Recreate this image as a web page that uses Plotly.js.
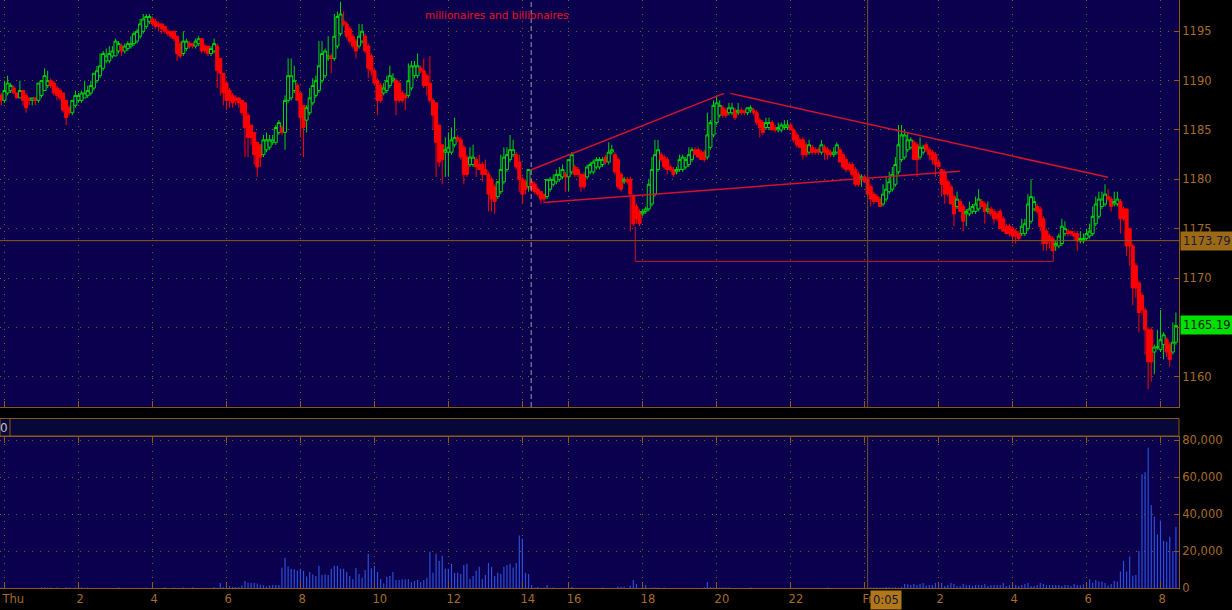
<!DOCTYPE html>
<html>
<head>
<meta charset="utf-8">
<script src="https://cdn.plot.ly/plotly-3.0.1.min.js"></script>
<style>
html,body{margin:0;padding:0;background:#000;}
#chart{width:1232px;height:610px;}
</style>
</head>
<body>
<div id="chart"></div>
<script>
// 5-minute candles, first one is Wed 23:55 (slot -1), last one Fri 08:25
const firstSlot = -1;

const openP = [1188.5,
1188.0,1188.75,1189.0,1189.25,1188.75,1188.25,1189.0,1188.5,1188.25,1188.0,1188.25,1188.0,
1188.5,1189.0,1189.5,1190.0,1189.75,1189.25,1189.0,1188.75,1188.0,1187.25,1186.75,1187.5,
1188.0,1188.0,1188.25,1188.5,1188.75,1189.25,1190.0,1190.5,1191.25,1192.0,1192.0,1192.5,
1192.5,1193.0,1193.5,1193.0,1193.25,1193.5,1193.75,1194.0,1194.5,1195.0,1195.5,1196.0,
1196.25,1196.0,1195.75,1195.75,1195.5,1195.0,1195.0,1195.0,1194.5,1193.75,1192.75,1193.25,
1193.75,1193.75,1193.5,1193.75,1194.25,1193.5,1193.5,1192.75,1193.0,1193.5,1192.25,1190.75,
1189.75,1189.0,1188.5,1188.25,1188.25,1188.0,1187.75,1186.5,1185.5,1184.75,1183.75,1183.5,
1182.5,1183.0,1183.25,1183.75,1183.75,1184.75,1185.25,1184.75,1188.0,1188.25,1189.0,1189.5,
1188.75,1187.5,1186.0,1186.75,1187.75,1188.5,1189.0,1190.0,1190.5,1192.25,1192.5,1192.25,
1193.5,1194.75,1196.0,1195.75,1195.25,1194.5,1194.0,1193.5,1194.0,1194.5,1193.5,1192.5,
1191.0,1190.0,1189.5,1188.75,1189.0,1189.5,1190.0,1190.0,1189.75,1188.75,1188.5,1188.5,
1189.25,1190.5,1190.5,1191.25,1191.0,1190.5,1189.75,1188.0,1187.75,1185.5,1183.5,1182.75,
1182.75,1182.75,1183.5,1184.25,1184.0,1183.25,1182.25,1181.5,1181.5,1182.0,1181.5,1181.5,
1181.0,1180.5,1180.0,1179.25,1178.25,1178.75,1179.75,1181.0,1182.0,1182.5,1182.5,1181.75,
1180.0,1179.75,1179.25,1179.75,1179.5,1179.0,1178.75,1178.5,1178.25,1179.0,1179.5,1179.75,
1180.0,1180.25,1180.5,1180.25,1180.75,1181.25,1181.0,1180.5,1180.5,1180.25,1180.75,1180.75,
1181.25,1181.25,1181.5,1182.25,1181.75,1182.75,1182.5,1182.0,1180.5,1179.75,1180.0,1180.0,
1178.25,1177.25,1176.75,1176.5,1176.75,1177.0,1177.5,1178.5,1181.0,1182.5,1182.25,1182.0,
1181.25,1181.0,1180.75,1181.0,1181.0,1181.25,1181.5,1182.0,1183.0,1183.0,1182.75,1182.75,
1182.25,1183.25,1184.5,1185.75,1186.5,1187.25,1187.0,1186.75,1186.75,1187.0,1186.75,1187.0,
1187.0,1186.75,1187.0,1187.0,1186.75,1186.0,1185.75,1185.25,1185.25,1185.75,1185.25,1185.0,
1185.0,1185.25,1185.25,1185.5,1185.0,1184.5,1184.0,1184.0,1183.5,1182.75,1183.25,1183.0,
1183.0,1182.75,1183.25,1183.0,1182.75,1182.5,1182.75,1183.0,1182.5,1182.0,1181.5,1181.5,
1181.0,1180.5,1180.0,1180.25,1180.0,1179.25,1178.5,1178.25,1178.0,1177.5,1178.0,1178.75,
1179.0,1179.5,1180.75,1182.0,1182.25,1183.0,1183.25,1183.75,1183.5,1182.25,1182.75,1183.5,
1183.0,1182.75,1182.5,1181.75,1181.0,1180.75,1179.75,1179.25,1178.25,1177.25,1177.75,1177.25,
1176.5,1176.5,1176.75,1176.75,1177.0,1177.75,1177.5,1176.75,1177.0,1176.75,1176.5,1176.75,
1176.0,1175.25,1175.25,1175.0,1174.75,1174.5,1174.5,1174.5,1175.0,1175.75,1177.0,1177.25,
1177.0,1176.0,1174.75,1174.25,1174.0,1173.25,1173.25,1173.5,1174.5,1174.75,1174.75,1174.5,
1174.5,1173.75,1173.75,1174.0,1174.25,1174.5,1175.5,1176.25,1177.25,1177.5,1178.25,1178.0,
1177.5,1177.5,1177.75,1177.0,1177.0,1175.0,1173.25,1171.25,1169.5,1168.25,1166.75,1164.75,
1164.75,1162.5,1163.0,1162.75,1163.25,1163.75,1163.25,1162.5,1163.5];

const highP = [1188.75,
1190.0,1190.5,1189.75,1189.5,1188.75,1190.0,1189.0,1188.75,1188.25,1188.25,1188.25,1189.75,
1190.0,1191.25,1191.0,1190.25,1190.0,1189.5,1189.25,1188.75,1188.0,1187.5,1188.0,1189.0,
1188.75,1189.0,1190.0,1189.5,1190.0,1190.75,1191.5,1192.75,1193.0,1193.25,1193.5,1193.5,
1194.25,1194.0,1193.75,1193.75,1194.0,1194.5,1195.0,1195.25,1196.25,1196.75,1196.75,1196.75,
1196.5,1196.25,1196.0,1195.75,1195.5,1195.25,1195.0,1195.0,1194.5,1194.0,1195.0,1194.25,
1194.0,1193.75,1194.25,1194.5,1194.25,1193.75,1193.5,1193.5,1194.25,1193.75,1192.25,1190.75,
1190.0,1189.25,1188.75,1188.5,1188.25,1188.0,1187.75,1186.75,1185.5,1184.75,1183.75,1183.5,
1184.5,1184.75,1184.5,1184.5,1185.5,1186.0,1185.5,1188.5,1192.25,1192.25,1191.5,1189.75,
1188.75,1187.5,1187.5,1189.25,1190.25,1190.5,1194.0,1194.0,1193.25,1194.5,1192.75,1196.75,
1197.0,1198.0,1197.0,1196.0,1195.5,1194.75,1194.25,1195.75,1195.75,1194.75,1193.75,1192.75,
1191.25,1190.25,1189.75,1189.75,1190.5,1191.5,1190.75,1190.25,1190.0,1189.0,1188.75,1191.75,
1192.0,1192.0,1192.75,1191.5,1192.25,1190.75,1192.5,1188.25,1187.75,1185.5,1183.5,1184.25,
1184.75,1185.25,1186.25,1184.5,1184.25,1183.5,1182.5,1183.25,1183.5,1182.25,1182.5,1181.75,
1182.0,1180.75,1180.25,1179.5,1179.75,1182.5,1183.25,1183.25,1184.5,1184.0,1182.75,1182.5,
1180.25,1180.0,1181.0,1180.0,1179.75,1179.25,1178.75,1178.5,1180.0,1180.25,1180.5,1181.0,
1181.25,1181.5,1180.75,1182.0,1182.75,1181.5,1181.25,1180.5,1180.75,1181.5,1181.75,1182.0,
1182.25,1182.25,1182.25,1182.5,1183.75,1183.5,1182.75,1182.25,1180.75,1180.25,1180.25,1180.25,
1178.5,1177.5,1177.0,1177.0,1177.25,1180.0,1182.25,1184.0,1184.0,1182.75,1182.5,1182.25,
1181.5,1181.25,1181.25,1182.5,1182.5,1182.25,1183.25,1183.25,1183.25,1183.25,1183.0,1183.0,
1186.75,1186.0,1188.0,1188.5,1188.0,1187.5,1187.25,1187.75,1187.75,1187.25,1187.75,1187.25,
1187.0,1187.25,1187.5,1187.25,1187.0,1186.25,1186.0,1186.25,1186.25,1186.0,1185.5,1185.75,
1185.75,1186.0,1186.0,1185.75,1185.25,1184.75,1184.25,1184.25,1183.75,1184.0,1183.5,1183.25,
1183.25,1184.0,1183.5,1183.25,1183.0,1183.25,1183.75,1183.25,1182.75,1182.25,1181.75,1181.75,
1181.25,1180.75,1180.5,1180.5,1180.0,1179.5,1178.75,1178.5,1178.25,1179.5,1180.25,1180.75,
1181.25,1182.25,1185.5,1185.5,1185.0,1184.75,1184.25,1184.0,1183.75,1184.25,1183.5,1183.75,
1183.25,1183.0,1182.75,1182.0,1181.0,1181.0,1180.0,1179.5,1178.5,1178.75,1178.0,1177.5,
1177.0,1177.75,1177.5,1178.25,1179.0,1178.0,1177.75,1177.75,1177.25,1177.0,1176.75,1177.0,
1176.25,1175.5,1175.5,1175.25,1175.0,1174.75,1176.0,1176.0,1178.5,1180.0,1178.25,1177.5,
1177.25,1176.25,1175.0,1174.5,1174.25,1173.75,1174.5,1176.0,1175.75,1175.0,1174.75,1174.75,
1174.75,1174.75,1174.5,1175.0,1175.5,1177.25,1178.25,1178.75,1178.75,1179.5,1179.0,1178.25,
1178.75,1178.75,1178.0,1177.25,1177.0,1175.0,1173.5,1171.5,1169.75,1168.5,1167.0,1165.0,
1165.0,1163.25,1164.75,1166.75,1164.5,1164.0,1163.5,1165.5,1166.5];

const lowP = [1187.5,
1187.75,1188.5,1188.75,1188.75,1188.25,1188.25,1187.5,1186.75,1187.5,1187.5,1187.5,1187.75,
1188.25,1189.0,1189.25,1189.25,1188.5,1188.0,1188.0,1186.75,1185.5,1186.5,1186.5,1187.25,
1187.75,1187.75,1188.25,1188.25,1188.5,1189.0,1189.75,1190.25,1191.0,1191.75,1191.75,1192.25,
1192.5,1192.75,1192.5,1192.75,1193.0,1193.25,1193.5,1193.75,1194.25,1194.75,1195.25,1195.75,
1195.5,1195.25,1195.0,1194.75,1194.75,1194.5,1194.25,1194.0,1192.0,1192.25,1192.5,1193.0,
1193.25,1193.25,1193.25,1193.5,1192.75,1192.75,1192.5,1192.5,1192.75,1189.25,1188.5,1187.5,
1187.0,1187.25,1187.25,1187.5,1187.25,1186.5,1182.25,1182.25,1183.5,1181.5,1180.25,1181.25,
1182.25,1182.75,1183.0,1183.5,1183.5,1184.5,1184.5,1183.0,1187.75,1188.0,1188.75,1188.0,
1184.25,1182.25,1184.75,1186.5,1187.5,1188.25,1188.75,1189.75,1190.25,1192.0,1190.75,1192.0,
1193.25,1194.5,1195.5,1194.25,1193.75,1193.25,1192.25,1193.25,1193.75,1192.75,1190.25,1190.5,
1189.5,1186.5,1187.75,1188.5,1188.75,1189.25,1189.75,1186.5,1187.75,1187.75,1187.0,1188.25,
1189.0,1190.25,1190.25,1190.75,1189.25,1188.5,1187.75,1185.0,1180.25,1181.25,1179.5,1180.25,
1180.25,1182.5,1183.25,1183.75,1182.0,1179.5,1180.25,1181.25,1181.25,1180.25,1181.0,1179.75,
1180.5,1176.75,1176.75,1176.5,1178.0,1178.5,1179.5,1180.75,1181.75,1182.25,1181.0,1178.75,
1177.5,1178.5,1178.75,1178.75,1178.5,1178.25,1177.5,1177.75,1178.0,1178.75,1179.25,1179.5,
1179.75,1180.0,1178.75,1178.75,1180.5,1180.25,1180.25,1178.75,1179.0,1180.0,1180.5,1180.5,
1181.0,1181.0,1181.25,1181.5,1181.5,1182.5,1180.5,1179.0,1178.75,1179.5,1179.5,1174.75,
1175.25,1175.5,1175.25,1176.25,1176.5,1176.75,1177.25,1178.25,1180.75,1181.75,1181.0,1180.5,
1180.75,1180.25,1180.5,1180.75,1180.75,1181.0,1181.25,1181.75,1182.5,1182.25,1182.0,1181.75,
1182.0,1183.0,1184.25,1185.5,1186.25,1186.25,1186.25,1186.5,1186.5,1186.0,1186.5,1186.5,
1186.5,1186.5,1186.75,1186.5,1185.5,1184.25,1184.5,1185.0,1185.0,1185.0,1184.75,1184.75,
1184.75,1185.0,1185.0,1185.0,1183.75,1183.25,1183.25,1182.0,1182.25,1182.5,1182.5,1182.5,
1182.5,1182.5,1182.0,1182.0,1182.25,1182.25,1182.5,1181.75,1181.0,1180.75,1180.75,1180.25,
1179.25,1179.25,1179.25,1179.75,1178.25,1177.25,1177.5,1177.75,1177.25,1177.25,1177.75,1178.5,
1178.75,1179.25,1180.5,1181.75,1182.0,1182.75,1183.0,1182.0,1180.25,1182.0,1182.5,1182.75,
1182.0,1181.5,1180.25,1181.25,1178.25,1177.5,1178.25,1177.5,1175.25,1177.0,1176.75,1174.75,
1175.25,1176.25,1176.5,1176.5,1176.75,1177.25,1175.5,1176.5,1176.25,1175.5,1175.75,1175.0,
1174.75,1174.5,1174.25,1173.5,1173.5,1173.75,1174.25,1174.25,1174.75,1175.5,1176.75,1176.5,
1174.75,1172.75,1172.75,1173.0,1172.75,1172.75,1173.0,1173.25,1174.25,1174.25,1174.25,1173.75,
1172.75,1173.5,1173.5,1173.75,1174.0,1174.25,1175.25,1176.0,1177.0,1177.25,1177.75,1176.75,
1177.25,1177.25,1174.5,1175.75,1172.25,1171.25,1167.25,1168.0,1164.5,1166.25,1162.25,1158.75,
1159.5,1160.25,1162.75,1162.5,1161.75,1162.0,1161.0,1162.25,1163.25];

const closeP = [1188.0,
1189.0,1189.75,1189.5,1188.75,1188.25,1189.0,1188.0,1187.25,1188.0,1188.25,1188.0,1189.75,
1190.0,1190.5,1190.0,1189.5,1188.75,1188.5,1188.25,1187.0,1186.25,1186.75,1188.0,1188.5,
1188.5,1188.75,1188.75,1189.0,1189.5,1190.75,1191.0,1191.5,1192.75,1192.5,1192.75,1193.0,
1194.0,1193.75,1193.0,1193.5,1193.75,1193.75,1194.75,1195.0,1195.75,1196.25,1196.5,1196.5,
1195.75,1195.5,1195.5,1195.25,1195.0,1194.75,1194.5,1194.25,1192.75,1192.5,1194.0,1194.0,
1193.5,1193.5,1194.0,1194.25,1193.0,1193.0,1192.75,1193.25,1193.75,1191.0,1190.75,1188.75,
1188.0,1188.0,1187.75,1188.0,1187.75,1186.75,1185.25,1184.25,1184.25,1182.5,1181.25,1182.25,
1184.0,1184.0,1184.0,1184.0,1185.25,1185.75,1184.75,1188.0,1190.5,1190.5,1190.0,1188.0,
1186.25,1185.25,1187.25,1188.25,1189.5,1190.0,1191.5,1192.75,1193.0,1192.5,1192.25,1194.5,
1196.5,1196.75,1195.75,1194.5,1194.0,1193.5,1193.0,1194.5,1195.0,1193.0,1191.25,1191.0,
1189.75,1188.0,1188.0,1189.25,1190.0,1190.5,1190.25,1188.0,1188.0,1188.0,1188.25,1190.0,
1191.5,1191.5,1191.5,1191.0,1189.5,1189.5,1188.0,1186.5,1183.75,1181.75,1182.0,1183.0,
1183.25,1184.0,1184.25,1184.0,1182.25,1180.5,1180.5,1182.25,1182.25,1181.25,1181.0,1180.5,
1180.5,1178.5,1178.0,1177.75,1179.75,1181.0,1182.25,1182.5,1183.0,1183.0,1181.25,1180.0,
1178.5,1179.0,1181.0,1179.0,1178.75,1178.5,1178.0,1178.0,1180.0,1180.0,1180.0,1180.5,
1180.5,1181.0,1180.25,1182.0,1182.5,1180.5,1180.5,1179.25,1179.25,1181.25,1181.5,1181.75,
1182.0,1182.0,1182.0,1181.75,1182.75,1183.0,1180.75,1179.25,1179.0,1180.0,1179.75,1178.5,
1175.5,1176.0,1175.5,1176.75,1177.0,1179.5,1181.0,1182.5,1183.0,1182.0,1181.25,1181.0,
1181.0,1180.5,1181.0,1182.0,1182.25,1182.0,1182.5,1183.0,1182.5,1182.25,1182.0,1182.0,
1184.5,1185.75,1187.5,1187.75,1187.5,1186.5,1186.5,1187.25,1187.25,1186.25,1187.0,1186.75,
1186.75,1187.25,1187.25,1186.75,1185.75,1185.25,1184.75,1185.75,1185.75,1185.0,1185.0,1185.25,
1185.5,1185.5,1185.5,1185.0,1184.0,1183.5,1183.25,1182.5,1182.5,1183.5,1182.75,1182.75,
1182.75,1183.5,1182.75,1182.5,1182.5,1182.75,1183.5,1181.75,1181.25,1181.0,1181.0,1180.5,
1179.5,1179.5,1180.25,1179.75,1178.5,1178.0,1177.75,1177.75,1177.25,1178.5,1179.0,1179.75,
1180.5,1181.5,1183.5,1184.5,1184.5,1184.0,1184.0,1182.0,1182.0,1183.25,1183.25,1183.0,
1182.5,1182.0,1181.5,1181.25,1179.5,1178.5,1178.5,1177.5,1176.5,1178.0,1176.75,1175.75,
1176.75,1177.0,1177.25,1177.5,1178.0,1177.25,1176.75,1177.0,1176.5,1176.0,1176.0,1175.0,
1174.75,1174.5,1174.5,1174.25,1174.25,1174.0,1175.25,1175.5,1177.5,1178.25,1177.75,1176.75,
1175.25,1173.5,1173.5,1173.75,1172.75,1173.5,1174.25,1175.25,1175.0,1174.5,1174.5,1174.25,
1173.75,1174.0,1174.0,1174.5,1174.75,1176.25,1177.5,1178.0,1178.0,1178.5,1178.0,1177.25,
1177.75,1178.0,1176.0,1176.0,1173.25,1173.25,1169.0,1169.0,1166.5,1166.75,1164.75,1161.5,
1161.5,1163.0,1163.0,1163.75,1164.25,1162.5,1161.75,1163.5,1165.19];

const volume = [300,
200,0,0,0,0,0,0,0,0,0,0,0,
300,400,300,300,0,300,0,0,400,300,0,300,
400,300,0,300,0,0,0,0,0,0,0,0,
0,300,0,0,0,0,0,0,0,0,300,0,
0,0,0,0,400,0,0,300,0,0,300,0,
0,300,0,0,0,0,0,0,500,0,2700,400,
300,1100,600,600,600,1300,3800,2900,2900,2900,2400,1800,
1500,700,1300,1600,1600,1600,11000,16400,11600,10400,10200,9500,
10400,9300,6200,8700,7300,6500,12000,7100,7300,7100,10400,12000,
12000,10400,10400,8700,6500,4700,10900,7600,5500,9800,18500,10700,
12000,8700,4900,2500,6000,6500,8700,4400,4400,4700,4700,4900,
3300,3800,4400,3300,4400,5500,19600,8200,18500,14700,17500,10400,
10400,13100,8200,8200,7600,12500,13100,4900,6500,9300,11500,4900,
7100,13600,11500,6500,8200,7600,11500,12500,13100,11100,13600,28400,
26700,8200,7600,1600,300,500,0,300,1600,0,300,0,
0,0,0,0,500,0,0,0,0,0,0,0,
0,0,300,0,0,0,0,800,700,700,0,1200,
4400,2200,0,1000,1600,0,300,300,300,0,300,0,
0,0,0,0,0,0,0,0,0,0,0,300,
3300,500,300,300,300,300,300,300,0,0,0,0,
0,0,300,0,0,0,0,0,0,0,0,0,
0,0,0,0,0,0,0,0,0,0,0,0,
0,0,0,300,0,0,0,0,0,0,0,0,
0,0,0,0,0,400,300,400,300,300,500,400,
300,400,300,600,2200,2000,1600,2200,1600,2200,2700,1300,
1600,1600,2700,2200,2700,1100,1600,2700,2200,1100,1100,2200,
1600,1600,1100,1600,1600,1600,2200,1100,1600,1600,1600,1600,
2700,1100,1600,2200,1600,1100,1600,2200,2700,1100,1100,1600,
2700,2200,1600,1600,1600,1600,1600,1100,1600,1600,1100,2200,
1600,1500,2000,2500,4700,3000,4400,3500,3500,2700,1300,2200,
3800,3500,8900,14700,8900,17000,6700,7000,20000,61600,62700,76000,
45000,38700,29000,36500,25600,25000,27800,20000,33000];

// time axis: minutes after Thursday 00:00; session closed 14:15-15:00
const tickMinutes = [0,120,240,360,480,600,720,840,960,1080,1200,1320,1440,1560,1680,1800,1920];
const tickLabels = ['Thu','2','4','6','8','10','12','14','16','18','20','22','Fri','2','4','6','8'];
const priceTicks = [1160,1165,1170,1175,1180,1185,1190,1195];
const volumeTicks = [0,20000,40000,60000,80000];
function slotOf(min){ return min >= 900 ? min/5 - 9 : min/5; }

const crosshairMinutes = 1445;      // Fri 0:05
const crosshairLabel = '0:05';
const crosshairPrice = 1173.79;
const sessionBreakSlot = 170.85;     // dashed session separator
const noteText = 'millionaires and billionaires';
const noteAt = [159.7, 1196.65];
// drawn studies: [slot, price] points
const riseUpper = [[170.7,1180.94],[233.4,1188.71]];
const fallLine  = [[235.4,1188.71],[358.0,1180.2]];
const riseLower = [[174.8,1177.65],[309.9,1180.82]];
const rangeBox  = [[204.6,1175.2],[204.6,1171.69],[340.2,1171.69],[340.2,1172.77]];

const slots = closeP.map((_, k) => firstSlot + k);
const lastClose = closeP[closeP.length - 1];

const C = {
  bg:'#0b004e', paper:'#000000', grid:'#8a5a14', axis:'#8a5a14', text:'#a56b2a',
  up:'#00d800', down:'#ff0000', vol:'#2c50d8', trend:'#d0142c'
};
const FONT = 'DejaVu Sans, sans-serif';

const traces = [
  {
    type:'candlestick', x:slots, open:openP, high:highP, low:lowP, close:closeP,
    xaxis:'x', yaxis:'y', whiskerwidth:0, hoverinfo:'skip', showlegend:false,
    increasing:{line:{color:C.up,width:1}, fillcolor:C.bg},
    decreasing:{line:{color:C.down,width:1}, fillcolor:C.down}
  },
  {
    type:'bar', x:slots, y:volume, xaxis:'x2', yaxis:'y2', width:0.38,
    marker:{color:C.vol, line:{width:0}}, hoverinfo:'skip', showlegend:false
  }
];

const tickSlots = tickMinutes.map(slotOf);
const xr = [-1.46, 381.0];
const pyDom = [(588-407)/588, 1];
const vyDom = [0, (588-437)/588];

function seg(p, q, xref, yref, line){ return {type:'line', xref:xref, yref:yref, x0:p[0], y0:p[1], x1:q[0], y1:q[1], line:line}; }

const shapes = [
  {type:'rect', xref:'paper', yref:'paper', x0:0, x1:1, y0:(588-436)/588, y1:(588-418.5)/588,
   fillcolor:'#07073a', line:{color:C.axis, width:1}, layer:'below'},
  {type:'line', xref:'paper', yref:'paper', x0:10/1179, x1:10/1179, y0:(588-436)/588, y1:(588-418.5)/588,
   line:{color:C.axis, width:1}},
  {type:'line', xref:'x', yref:'y domain', x0:sessionBreakSlot, x1:sessionBreakSlot, y0:0, y1:1,
   line:{color:'#9a9ab8', width:1, dash:'5px,3px'}},
  {type:'line', xref:'x', yref:'y domain', x0:slotOf(crosshairMinutes), x1:slotOf(crosshairMinutes), y0:0, y1:1,
   line:{color:'#6f5028', width:1}},
  {type:'line', xref:'x2', yref:'y2 domain', x0:slotOf(crosshairMinutes), x1:slotOf(crosshairMinutes), y0:0, y1:1,
   line:{color:'#6f5028', width:1}},
  {type:'line', xref:'x domain', yref:'y', x0:0, x1:1, y0:crosshairPrice, y1:crosshairPrice,
   line:{color:'#8c5c16', width:1}},
  seg(riseUpper[0], riseUpper[1], 'x', 'y', {color:C.trend, width:1.5}),
  seg(fallLine[0], fallLine[1], 'x', 'y', {color:C.trend, width:1.5}),
  seg(riseLower[0], riseLower[1], 'x', 'y', {color:C.trend, width:1.5}),
  {type:'path', xref:'x', yref:'y',
   path:'M' + rangeBox.map(p => p[0] + ',' + p[1]).join(' L'),
   line:{color:'#c81830', width:1}}
];

const annotations = [
  {xref:'x', yref:'y', x:noteAt[0], y:noteAt[1], text:noteText, showarrow:false,
   font:{family:FONT, size:10.5, color:'#e8141c'}},
  {xref:'paper', yref:'y', x:1, xanchor:'left', xshift:1, y:crosshairPrice, text:crosshairPrice.toFixed(2),
   showarrow:false, bgcolor:'#9c6a14', borderpad:2, font:{family:FONT, size:11.5, color:'#1a1a3c'}},
  {xref:'paper', yref:'y', x:1, xanchor:'left', xshift:1, y:lastClose, text:lastClose.toFixed(2),
   showarrow:false, bgcolor:'#00e000', borderpad:2, font:{family:FONT, size:11.5, color:'#102010'}},
  {xref:'x2', yref:'paper', x:slotOf(crosshairMinutes), xanchor:'left', xshift:2,
   y:-(599.5-588)/588, yanchor:'middle', text:crosshairLabel, showarrow:false,
   bgcolor:'#b07818', borderpad:2, font:{family:FONT, size:11.5, color:'#14143a'}},
  {xref:'paper', yref:'paper', x:0, xanchor:'left', xshift:-2, y:(588-427.5)/588, yanchor:'middle',
   text:'0', showarrow:false, font:{family:FONT, size:12, color:'#c0c0cc'}}
];

const axisFont = {family:FONT, size:11.5, color:C.text};
const layout = {
  width:1232, height:610,
  margin:{l:0, r:53, t:0, b:22, pad:0},
  paper_bgcolor:C.paper, plot_bgcolor:C.bg,
  font:{family:FONT, color:C.text},
  showlegend:false, boxgap:0.02, boxgroupgap:0,
  xaxis:{domain:[0,1], anchor:'y', range:xr, type:'linear', rangeslider:{visible:false},
    tickvals:tickSlots, showticklabels:false, ticks:'inside', ticklen:6, tickcolor:C.axis,
    showgrid:true, gridcolor:C.grid, griddash:'1px,6px', gridwidth:1,
    showline:true, linecolor:C.axis, linewidth:1, zeroline:false, fixedrange:true},
  yaxis:{domain:pyDom, anchor:'x', range:[1156.93, 1198.17], side:'right',
    tickvals:priceTicks, ticks:'inside', ticklen:5, tickcolor:C.axis, tickfont:axisFont,
    showgrid:true, gridcolor:C.grid, griddash:'1px,7px', gridwidth:1,
    showline:true, linecolor:C.axis, linewidth:1, zeroline:false, fixedrange:true},
  xaxis2:{domain:[0,1], anchor:'y2', range:xr, type:'linear', matches:'x',
    tickvals:tickSlots, ticktext:tickLabels, ticklabelposition:'outside right', ticklabelshift:-3,
    ticks:'inside', ticklen:6, tickcolor:C.axis, tickfont:axisFont, mirror:'ticks',
    showgrid:true, gridcolor:C.grid, griddash:'1px,6px', gridwidth:1,
    showline:true, linecolor:C.axis, linewidth:1, zeroline:false, fixedrange:true},
  yaxis2:{domain:vyDom, anchor:'x2', range:[0, 81800], side:'right',
    tickvals:volumeTicks, tickformat:',d', ticks:'inside', ticklen:5, tickcolor:C.axis, tickfont:axisFont,
    showgrid:true, gridcolor:C.grid, griddash:'1px,7px', gridwidth:1,
    showline:true, linecolor:C.axis, linewidth:1, zeroline:false, fixedrange:true},
  shapes:shapes,
  annotations:annotations
};

Plotly.newPlot('chart', traces, layout, {staticPlot:true, displayModeBar:false});
</script>
</body>
</html>
